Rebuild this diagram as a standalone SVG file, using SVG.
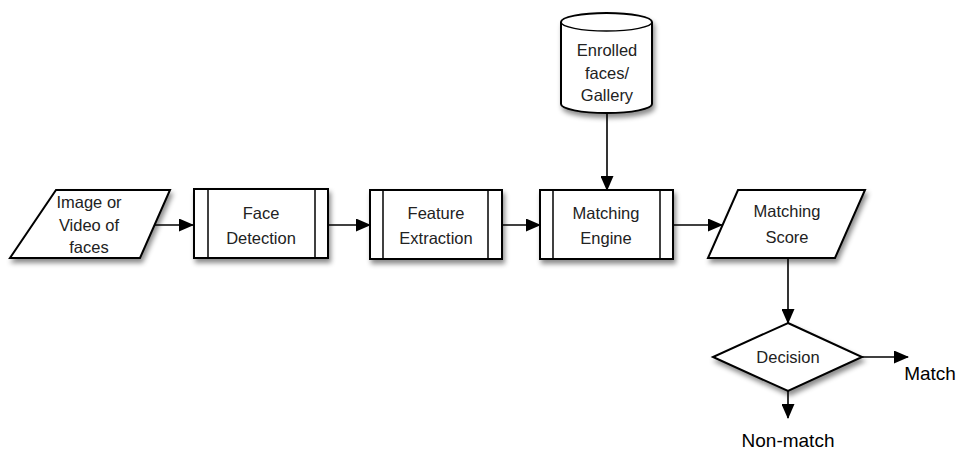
<svg xmlns="http://www.w3.org/2000/svg" width="956" height="450" viewBox="0 0 956 450">
<defs>
<filter id="sh" x="-20%" y="-20%" width="150%" height="150%">
<feDropShadow dx="2" dy="4" stdDeviation="2.5" flood-color="#000" flood-opacity="0.45"/>
</filter>
<marker id="ah" markerWidth="15" markerHeight="13" refX="14" refY="6.5" orient="auto" markerUnits="userSpaceOnUse">
<path d="M0,0 L15,6.5 L0,13 Z" fill="#000"/>
</marker>
<style>
.s{fill:#fff;stroke:#000;stroke-width:2;filter:url(#sh)}
.l{stroke:#000;stroke-width:1.5;fill:none}
.c{stroke:#000;stroke-width:1.6;fill:none;marker-end:url(#ah)}
text{font-family:"Liberation Sans",Arial,sans-serif;font-size:16.5px;fill:#222;text-anchor:middle}
.big{font-size:19px;fill:#000}
</style>
</defs>
<rect width="956" height="450" fill="#fff"/>
<g id="connectors">
<line class="c" x1="155" y1="225" x2="193" y2="225"/>
<line class="c" x1="328" y1="225" x2="370" y2="225"/>
<line class="c" x1="502" y1="225" x2="540" y2="225"/>
<line class="c" x1="673" y1="225" x2="722" y2="225"/>
<line class="c" x1="607" y1="113" x2="607" y2="190"/>
<line class="c" x1="788" y1="258" x2="788" y2="323"/>
<line class="c" x1="862" y1="357" x2="908" y2="357"/>
<line class="c" x1="788" y1="391" x2="788" y2="418"/>
</g>
<g id="input">
<path class="s" d="M56,190 L170,190 L140,258 L10,258 Z"/>
<text x="89" y="208">Image or</text>
<text x="89" y="231">Video of</text>
<text x="89" y="253">faces</text>
</g>
<g id="face-detection">
<rect class="s" x="194" y="189" width="134" height="69"/>
<line class="l" x1="208" y1="189" x2="208" y2="258"/>
<line class="l" x1="315" y1="189" x2="315" y2="258"/>
<text x="261" y="219">Face</text>
<text x="261" y="244">Detection</text>
</g>
<g id="feature-extraction">
<rect class="s" x="370" y="190" width="132" height="69"/>
<line class="l" x1="383" y1="190" x2="383" y2="259"/>
<line class="l" x1="488" y1="190" x2="488" y2="259"/>
<text x="436" y="219">Feature</text>
<text x="436" y="244">Extraction</text>
</g>
<g id="matching-engine">
<rect class="s" x="540" y="190" width="133" height="69"/>
<line class="l" x1="553" y1="190" x2="553" y2="259"/>
<line class="l" x1="660" y1="190" x2="660" y2="259"/>
<text x="606" y="219">Matching</text>
<text x="606" y="244">Engine</text>
</g>
<g id="gallery">
<path class="s" d="M561,22 A45.5,9 0 0 1 652,22 L652,104 A45.5,9 0 0 1 561,104 Z"/>
<path class="l" d="M561,22 A45.5,9 0 0 0 652,22"/>
<text x="607" y="56">Enrolled</text>
<text x="607" y="79">faces/</text>
<text x="607" y="101">Gallery</text>
</g>
<g id="matching-score">
<path class="s" d="M738,190 L865,190 L835,258 L708,258 Z"/>
<text x="787" y="217">Matching</text>
<text x="787" y="243">Score</text>
</g>
<g id="decision">
<path class="s" d="M788,323 L862,357 L788,391 L713,357 Z"/>
<text x="788" y="363">Decision</text>
</g>
<g id="match">
<text class="big" x="930" y="380">Match</text>
</g>
<g id="non-match">
<text class="big" x="788" y="447">Non-match</text>
</g>
</svg>
